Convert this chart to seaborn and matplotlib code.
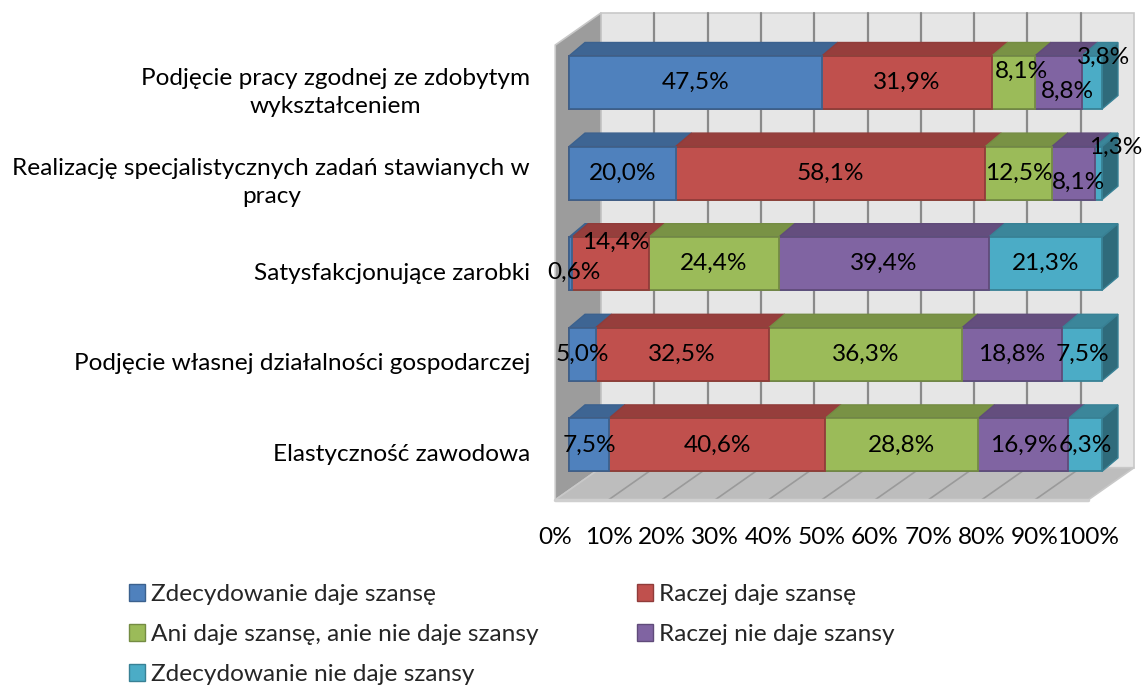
import numpy as np
import pandas as pd
import seaborn as sns
import matplotlib
matplotlib.use("Agg")
import matplotlib.pyplot as plt
from matplotlib.patches import Polygon, Patch
import matplotlib.colors as mcolors

# ---------------- data ----------------
categories = [
    "Podjęcie pracy zgodnej ze zdobytym\nwykształceniem",
    "Realizację specjalistycznych zadań stawianych w\npracy",
    "Satysfakcjonujące zarobki",
    "Podjęcie własnej działalności gospodarczej",
    "Elastyczność zawodowa",
]
series_names = [
    "Zdecydowanie daje szansę",
    "Raczej daje szansę",
    "Ani daje szansę, anie nie daje szansy",
    "Raczej nie daje szansy",
    "Zdecydowanie nie daje szansy",
]
zdecydowanie_daje = [47.5, 20.0, 0.6, 5.0, 7.5]
raczej_daje = [31.9, 58.1, 14.4, 32.5, 40.6]
ani_ani = [8.1, 12.5, 24.4, 36.3, 28.8]
raczej_nie = [8.8, 8.1, 39.4, 18.8, 16.9]
zdecydowanie_nie = [3.8, 1.3, 21.3, 7.5, 6.3]
tick_values = [0, 10, 20, 30, 40, 50, 60, 70, 80, 90, 100]
tick_labels = [f"{v}%" for v in tick_values]

# ---------------- style ----------------
colors = ["#4F81BD", "#C0504D", "#9BBB59", "#8064A2", "#4BACC6"]


def shade(c, f):
    r, g, b = mcolors.to_rgb(c)
    return (r * f, g * f, b * f)


edge_cols = [shade(c, 0.75) for c in colors]
top_cols = [shade(c, 0.78) for c in colors]
side_cols = [shade(c, 0.62) for c in colors]

# label nudges (x in %, y in category units) for a few crowded labels
label_nudge = {
    (0, 2): (1.5, -0.12), (0, 3): (1.7, 0.094), (0, 4): (2.2, -0.276),
    (1, 3): (1.0, 0.10), (1, 4): (3.2, -0.28),
    (2, 0): (0.6, 0.09), (2, 1): (1.0, -0.24),
}

sns.set_theme(style="white")
FONT = ["Lato", "DejaVu Sans"]
plt.rcParams["font.family"] = FONT
FS = 17.6

W, H = 1144, 695
fig = plt.figure(figsize=(W / 100, H / 100), dpi=100)
ax = fig.add_axes([0, 0, 1, 1])

# pixel-equivalent layout constants
PX_X0, PX_PER_PCT = 569.0, 5.33
PX_Y0, PX_PER_CAT = 82.5, 90.6
XL = (-PX_X0 / PX_PER_PCT, (W - PX_X0) / PX_PER_PCT)
YL = ((H - PX_Y0) / PX_PER_CAT, -PX_Y0 / PX_PER_CAT)

BAR_H = 0.585
BDX, BDY = 3.0, -0.149          # bar depth
WDX, WDY = 8.6, -0.355          # full box depth per unit d
D_FRONT, D_BACK = -0.3, 0.7
Y_TOP, Y_BOT = -0.52, 4.50


def P(x, y, d):
    return (x + d * WDX, y + d * WDY)


# ---------------- box (walls, floor) ----------------
back = [P(0, Y_TOP, D_BACK), P(100, Y_TOP, D_BACK), P(100, Y_BOT, D_BACK), P(0, Y_BOT, D_BACK)]
left = [P(0, Y_TOP, D_FRONT), P(0, Y_TOP, D_BACK), P(0, Y_BOT, D_BACK), P(0, Y_BOT, D_FRONT)]
floor = [P(0, Y_BOT, D_FRONT), P(100, Y_BOT, D_FRONT), P(100, Y_BOT, D_BACK), P(0, Y_BOT, D_BACK)]
ax.add_patch(Polygon(back, closed=True, facecolor="#E6E6E6", edgecolor="#C8C8C8", lw=1.2, zorder=0))
ax.add_patch(Polygon(left, closed=True, facecolor="#9C9C9C", edgecolor="#C8C8C8", lw=1.2, zorder=0.5))
ax.add_patch(Polygon(floor, closed=True, facecolor="#BDBDBD", edgecolor="#C8C8C8", lw=1.2, zorder=0.5))
for v in tick_values[1:-1]:
    (x1, y1), (x2, y2) = P(v, Y_TOP, D_BACK), P(v, Y_BOT, D_BACK)
    ax.plot([x1, x2], [y1, y2], color="#8A8A8A", lw=1.6, zorder=0.3)
    (x1, y1), (x2, y2) = P(v, Y_BOT, D_FRONT), P(v, Y_BOT, D_BACK)
    ax.plot([x1, x2], [y1, y2], color="#9A9A9A", lw=1.2, zorder=0.6)
(x1, y1), (x2, y2) = P(0, Y_BOT, D_FRONT), P(100, Y_BOT, D_FRONT)
ax.plot([x1, x2], [y1, y2], color="#CFCFCF", lw=2.5, zorder=0.7)

# ---------------- bars ----------------
vals = np.array([zdecydowanie_daje, raczej_daje, ani_ani, raczej_nie, zdecydowanie_nie], dtype=float)  # (series, cat)
totals = vals.sum(axis=0)
share = vals / totals * 100
cum = np.cumsum(share, axis=0)
left_edges = cum - share

df = pd.DataFrame({"category": categories})
for k in reversed(range(len(series_names))):
    df["cum"] = cum[k]
    sns.barplot(data=df, x="cum", y="category", orient="h", color=colors[k], saturation=1,
                width=BAR_H, edgecolor=edge_cols[k], linewidth=1.3, errorbar=None,
                ax=ax, zorder=3)

for i in range(len(categories)):
    top = i - BAR_H / 2
    bot = i + BAR_H / 2
    for k in range(len(series_names)):
        l, r = left_edges[k, i], cum[k, i]
        ax.add_patch(Polygon([(l, top), (r, top), (r + BDX, top + BDY), (l + BDX, top + BDY)],
                             closed=True, facecolor=top_cols[k], edgecolor=edge_cols[k],
                             lw=1.0, zorder=2))
    R = cum[-1, i]
    ax.add_patch(Polygon([(R, top), (R + BDX, top + BDY), (R + BDX, bot + BDY), (R, bot)],
                         closed=True, facecolor=side_cols[-1], edgecolor=edge_cols[-1],
                         lw=1.0, zorder=2))
    for k in range(len(series_names)):
        dx, dy = label_nudge.get((i, k), (0, 0))
        cx = (left_edges[k, i] + cum[k, i]) / 2 + dx
        ax.text(cx, i + dy, f"{vals[k, i]:.1f}%".replace(".", ","), ha="center", va="center",
                fontsize=FS, color="black", zorder=6, family=FONT)

# ---------------- axis texts ----------------
for i, c in enumerate(categories):
    ax.text(-7.3, i + 0.107, c, ha="right", va="center", multialignment="center",
            fontsize=FS, color="black", linespacing=1.4, family=FONT)
for v, t in zip(tick_values, tick_labels):
    x, _ = P(v, Y_BOT, D_FRONT)
    ax.text(x, (537 - PX_Y0) / PX_PER_CAT, t, ha="center", va="center", fontsize=FS,
            color="black", family=FONT)

ax.set_xlim(*XL)
ax.set_ylim(*YL)
ax.axis("off")

# ---------------- legend ----------------
handles = [Patch(facecolor=colors[k], edgecolor=edge_cols[k], lw=1.0, label=series_names[k])
           for k in range(len(series_names))]
order = [0, 2, 4, 1, 3]
fig.legend([handles[j] for j in order], [series_names[j] for j in order], ncol=2,
           loc="upper left", bbox_to_anchor=(129 / W, 1 - 584 / H), frameon=False,
           handlelength=0.66, handleheight=0.66, handletextpad=0.25,
           labelspacing=0.78, columnspacing=4.0, borderpad=0, borderaxespad=0,
           prop={"family": FONT, "size": FS})

fig.savefig("out.png", dpi=100)
